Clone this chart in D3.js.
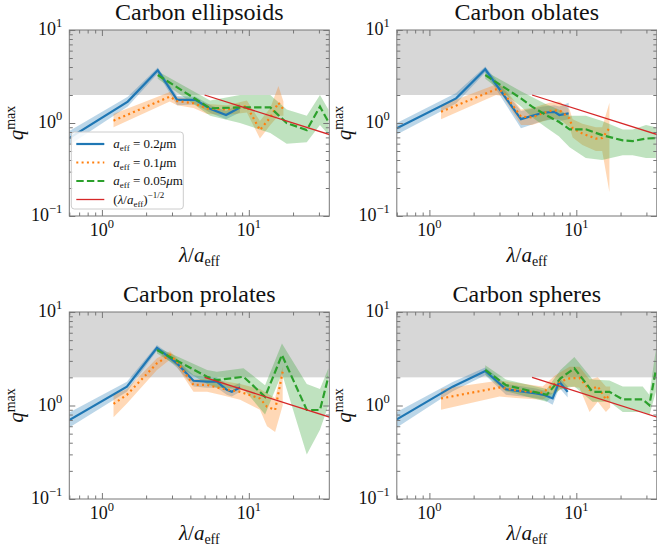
<!DOCTYPE html>
<html><head><meta charset="utf-8">
<script src="https://cdn.jsdelivr.net/npm/d3@7"></script>
<style>
body{margin:0;background:#fff}
svg{display:block}
</style>
</head><body>
<svg id="c" width="657" height="550" font-family="'Liberation Serif', 'Times New Roman', 'DejaVu Serif', serif"></svg>
<script>
// ---------------- DATA ----------------
const panelTitles = ["Carbon ellipsoids", "Carbon oblates", "Carbon prolates", "Carbon spheres"];
const xDomain = [0.6, 35.3];
const yDomain = [0.1, 10];
const bandRange = [2, 10];
const xMajorTicks = [1, 10];
const xMinorTicks = [0.6, 0.7, 0.8, 0.9, 2, 3, 4, 5, 6, 7, 8, 9, 20, 30];
const yMajorTicks = [0.1, 1, 10];
const yMinorTicks = [0.2, 0.3, 0.4, 0.5, 0.6, 0.7, 0.8, 0.9, 2, 3, 4, 5, 6, 7, 8, 9];
const legendLabels = ["0.2", "0.1", "0.05"];
const refLineX = [5, 40];
const refLineY = [2.0, 0.707];

// Carbon ellipsoids
const ell_b_x = [0.6, 1.5, 2.4, 3.25, 4.35, 5.5, 7.0, 8.7];
const ell_b_y = [0.69, 1.7, 3.7, 1.77, 1.77, 1.41, 1.22, 1.47];
const ell_b_lo = [0.58, 1.5, 3.4, 1.55, 1.58, 1.28, 1.1, 1.3];
const ell_b_hi = [0.82, 1.92, 3.95, 1.95, 1.92, 1.55, 1.35, 1.62];
const ell_o_x = [1.2, 2.9, 3.25, 4.2, 5.2, 7.1, 9.7, 11.9, 14.0, 15.9, 17.2];
const ell_o_y = [1.06, 1.92, 1.72, 1.63, 1.43, 1.40, 1.52, 0.84, 1.15, 1.65, 1.4];
const ell_o_lo = [0.9, 1.7, 1.55, 1.45, 1.25, 1.22, 1.3, 0.68, 0.95, 1.2, 1.2];
const ell_o_hi = [1.25, 2.15, 1.9, 1.8, 1.6, 1.55, 1.75, 1.05, 1.45, 2.5, 1.7];
const ell_g_x = [2.4, 5.45, 8.7, 14.0, 18.1, 24.8, 30.5, 34.8];
const ell_g_y = [3.28, 1.44, 1.47, 1.47, 1.0, 0.84, 1.5, 1.03];
const ell_g_lo = [3.0, 1.2, 1.0, 0.78, 0.6, 0.62, 0.95, 0.75];
const ell_g_hi = [3.6, 1.75, 2.0, 2.0, 1.4, 1.2, 2.0, 1.4];

// Carbon oblates
const obl_b_x = [0.6, 1.52, 2.4, 4.2, 5.9, 7.1, 7.66, 8.87];
const obl_b_y = [0.88, 1.84, 3.78, 1.10, 1.29, 1.32, 1.22, 1.27];
const obl_b_lo = [0.75, 1.62, 3.5, 0.88, 1.05, 1.1, 1.05, 1.1];
const obl_b_hi = [1.0, 2.1, 4.05, 1.35, 1.5, 1.55, 1.5, 1.65];
const obl_o_x = [1.2, 2.84, 3.15, 4.2, 5.0, 6.55, 7.7, 9.0, 9.44, 11.0, 13.6, 15.0, 16.8];
const obl_o_y = [1.32, 2.30, 2.18, 1.17, 1.15, 1.35, 1.37, 1.12, 0.88, 0.77, 0.68, 0.69, 0.88];
const obl_o_lo = [1.1, 2.0, 1.95, 0.95, 0.95, 1.1, 1.1, 0.9, 0.7, 0.58, 0.5, 0.5, 0.18];
const obl_o_hi = [1.55, 2.6, 2.5, 1.4, 1.45, 1.65, 1.7, 1.4, 1.1, 0.98, 0.9, 0.9, 1.65];
const obl_g_x = [2.4, 4.2, 5.0, 6.2, 7.6, 9.0, 11.6, 15.0, 20.7, 24.2, 29.8, 34.8];
const obl_g_y = [3.28, 1.84, 1.5, 1.22, 1.03, 0.855, 0.855, 0.74, 0.65, 0.64, 0.68, 0.69];
const obl_g_lo = [3.0, 1.5, 1.15, 0.9, 0.72, 0.55, 0.42, 0.4, 0.45, 0.45, 0.42, 0.42];
const obl_g_hi = [3.6, 2.2, 1.9, 1.6, 1.4, 1.2, 1.2, 1.05, 0.85, 0.85, 0.95, 0.9];

// Carbon prolates
const pro_b_x = [0.6, 1.48, 2.37, 3.24, 4.2, 5.2, 6.06, 7.08, 7.66, 8.73];
const pro_b_y = [0.70, 1.59, 4.15, 2.83, 1.84, 1.80, 1.80, 1.47, 1.40, 1.56];
const pro_b_lo = [0.58, 1.4, 3.85, 2.55, 1.6, 1.55, 1.55, 1.3, 1.25, 1.4];
const pro_b_hi = [0.84, 1.8, 4.45, 3.1, 2.1, 2.0, 2.0, 1.7, 1.6, 1.75];
const pro_o_x = [1.2, 1.48, 2.37, 2.91, 3.24, 4.2, 5.2, 6.38, 8.73, 11.9, 13.3, 15.1, 17.0];
const pro_o_y = [1.04, 1.3, 2.83, 3.47, 2.94, 1.66, 1.66, 1.53, 1.40, 1.19, 0.97, 0.895, 2.3];
const pro_o_lo = [0.75, 1.05, 2.4, 3.1, 2.6, 1.4, 1.4, 1.3, 1.15, 0.9, 0.6, 0.52, 1.0];
const pro_o_hi = [1.3, 1.5, 3.2, 3.8, 3.2, 1.9, 1.95, 1.85, 1.7, 1.5, 1.35, 1.2, 2.6];
const pro_g_x = [2.37, 5.2, 6.06, 9.2, 12.9, 16.8, 24.8, 30.5, 34.8];
const pro_g_y = [3.92, 2.03, 1.87, 2.03, 1.24, 3.47, 0.895, 0.895, 2.03];
const pro_g_lo = [3.6, 1.7, 1.55, 1.5, 0.8, 2.2, 0.3, 0.55, 1.0];
const pro_g_hi = [4.2, 2.4, 2.3, 2.5, 1.65, 4.6, 1.7, 1.5, 2.5];

// Carbon spheres
const sph_b_x = [0.6, 1.44, 2.4, 3.32, 5.32, 6.0, 6.9, 7.66, 8.73];
const sph_b_y = [0.71, 1.59, 2.34, 1.49, 1.35, 1.30, 1.19, 1.80, 1.40];
const sph_b_lo = [0.58, 1.42, 2.1, 1.3, 1.2, 1.15, 1.02, 1.55, 1.22];
const sph_b_hi = [0.85, 1.78, 2.55, 1.7, 1.52, 1.45, 1.35, 2.0, 1.6];
const sph_o_x = [1.2, 3.0, 3.89, 5.9, 7.2, 9.0, 10.5, 12.3, 14.0, 15.9, 17.0];
const sph_o_y = [1.19, 1.56, 1.45, 1.37, 1.73, 1.95, 1.97, 1.47, 1.60, 1.16, 1.33];
const sph_o_lo = [0.9, 1.25, 1.2, 1.15, 1.4, 1.6, 1.55, 0.85, 1.1, 0.85, 0.95];
const sph_o_hi = [1.5, 1.85, 1.75, 1.6, 2.1, 2.6, 2.6, 1.9, 2.0, 1.6, 1.6];
const sph_g_x = [2.4, 3.32, 6.3, 7.8, 9.7, 12.9, 16.8, 20.7, 28.3, 31.4, 34.8];
const sph_g_y = [2.40, 1.65, 1.30, 1.95, 2.50, 1.40, 1.40, 1.16, 1.16, 1.01, 2.40];
const sph_g_lo = [2.15, 1.42, 1.1, 1.5, 1.6, 1.1, 1.1, 0.85, 0.85, 0.78, 1.4];
const sph_g_hi = [2.7, 1.9, 1.5, 2.4, 3.3, 1.9, 1.85, 1.6, 1.6, 1.3, 4.0];

// ---------------- BUILD ----------------
const mk = (x, y, lo, hi) => x.map((v, i) => ({x: v, y: y[i], lo: lo[i], hi: hi[i]}));
const panelSeries = [
  [mk(ell_b_x, ell_b_y, ell_b_lo, ell_b_hi), mk(ell_o_x, ell_o_y, ell_o_lo, ell_o_hi), mk(ell_g_x, ell_g_y, ell_g_lo, ell_g_hi)],
  [mk(obl_b_x, obl_b_y, obl_b_lo, obl_b_hi), mk(obl_o_x, obl_o_y, obl_o_lo, obl_o_hi), mk(obl_g_x, obl_g_y, obl_g_lo, obl_g_hi)],
  [mk(pro_b_x, pro_b_y, pro_b_lo, pro_b_hi), mk(pro_o_x, pro_o_y, pro_o_lo, pro_o_hi), mk(pro_g_x, pro_g_y, pro_g_lo, pro_g_hi)],
  [mk(sph_b_x, sph_b_y, sph_b_lo, sph_b_hi), mk(sph_o_x, sph_o_y, sph_o_lo, sph_o_hi), mk(sph_g_x, sph_g_y, sph_g_lo, sph_g_hi)]
];
const colors = ["#1f77b4", "#ff7f0e", "#2ca02c"];
const red = "#d62728";
const dashes = [null, "2,3.3", "7.4,3.2"];

const svg = d3.select("#c");
const W = 260;
const layout = [
  {x0: 69.3, y0: 30, h: 186, xl: 46},
  {x0: 396.8, y0: 30, h: 186, xl: 46},
  {x0: 69.3, y0: 312, h: 187, xl: 41},
  {x0: 396.8, y0: 312, h: 187, xl: 41}
];
const frameColor = "#777";
const textColor = "#111";

function sup(sel, base, exp, fs, efs) {
  sel.append("tspan").text(base);
  sel.append("tspan").attr("font-size", efs).attr("dy", -fs * 0.42).text(exp);
}

layout.forEach((L, pi) => {
  const x = d3.scaleLog().domain(xDomain).range([0, W]);
  const y = d3.scaleLog().domain(yDomain).range([L.h, 0]);
  const g = svg.append("g").attr("transform", `translate(${L.x0},${L.y0})`).attr("fill", textColor);
  const cid = "clip" + pi;
  g.append("clipPath").attr("id", cid).append("rect").attr("width", W).attr("height", L.h);
  const pg = g.append("g").attr("clip-path", `url(#${cid})`);

  // gray band
  pg.append("rect").attr("x", 0).attr("width", W)
    .attr("y", y(bandRange[1])).attr("height", y(bandRange[0]) - y(bandRange[1]))
    .attr("fill", "#d7d7d7");

  const area = d3.area().x(d => x(d.x)).y0(d => y(d.lo)).y1(d => y(d.hi));
  const line = d3.line().x(d => x(d.x)).y(d => y(d.y));
  const ser = panelSeries[pi];
  ser.forEach((s, si) => {
    pg.append("path").datum(s).attr("d", area).attr("fill", colors[si]).attr("fill-opacity", 0.3);
  });
  ser.forEach((s, si) => {
    const p = pg.append("path").datum(s).attr("d", line).attr("fill", "none")
      .attr("stroke", colors[si]).attr("stroke-width", 2.2);
    if (dashes[si]) p.attr("stroke-dasharray", dashes[si]);
  });
  // reference line
  const ref = refLineX.map((v, i) => ({x: v, y: refLineY[i]}));
  pg.append("path").datum(ref).attr("d", line).attr("fill", "none").attr("stroke", red).attr("stroke-width", 1.3);

  // ticks (inward, all four sides)
  const axes = [
    [d3.axisBottom(x), `translate(0,${L.h})`, xMajorTicks, xMinorTicks],
    [d3.axisTop(x), `translate(0,0)`, xMajorTicks, xMinorTicks],
    [d3.axisLeft(y), `translate(0,0)`, yMajorTicks, yMinorTicks],
    [d3.axisRight(y), `translate(${W},0)`, yMajorTicks, yMinorTicks]
  ];
  axes.forEach(([ax, tr, maj, min]) => {
    [[maj, 6], [min, 3.5]].forEach(([vals, len]) => {
      const a = g.append("g").attr("transform", tr)
        .call(ax.tickValues(vals).tickSize(-len).tickFormat(""));
      a.attr("font-family", null);
      a.select(".domain").remove();
      a.selectAll("line").attr("stroke", frameColor).attr("stroke-width", 1);
    });
  });
  g.append("rect").attr("width", W).attr("height", L.h).attr("fill", "none")
    .attr("stroke", frameColor).attr("stroke-width", 1);

  // tick labels
  const fs = 18, efs = 12.5;
  xMajorTicks.forEach(v => {
    const exp = Math.round(Math.log10(v));
    const t = g.append("text").attr("x", x(v)).attr("y", L.h + 20)
      .attr("text-anchor", "middle").attr("font-size", fs);
    sup(t, "10", exp < 0 ? "\u2212" + (-exp) : String(exp), fs, efs);
  });
  yMajorTicks.forEach(v => {
    const exp = Math.round(Math.log10(v));
    const t = g.append("text").attr("x", -7).attr("y", y(v) + 5)
      .attr("text-anchor", "end").attr("font-size", fs);
    sup(t, "10", exp < 0 ? "\u2212" + (-exp) : String(exp), fs, efs);
  });

  // title
  g.append("text").attr("x", W / 2).attr("y", -10).attr("text-anchor", "middle")
    .attr("font-size", 24).text(panelTitles[pi]);

  // x label
  const xl = g.append("text").attr("x", W / 2).attr("y", L.h + L.xl).attr("text-anchor", "middle").attr("font-size", 21);
  xl.append("tspan").attr("font-style", "italic").text("\u03bb");
  xl.append("tspan").text("/");
  xl.append("tspan").attr("font-style", "italic").text("a");
  xl.append("tspan").attr("font-size", 14).attr("dy", 3.5).text("eff");

  // y label
  const yl = g.append("text").attr("transform", `translate(${-46},${L.h / 2}) rotate(-90)`)
    .attr("text-anchor", "middle").attr("font-size", 21);
  yl.append("tspan").attr("font-style", "italic").text("q");
  yl.append("tspan").attr("font-size", 14).attr("dy", -8).text("max");

  // legend in first panel
  if (pi === 0) {
    const lg = g.append("g").attr("transform", "translate(2,102)");
    lg.append("rect").attr("width", 112).attr("height", 77).attr("rx", 3)
      .attr("fill", "#fff").attr("fill-opacity", 0.85).attr("stroke", "#ccc");
    const rowY = [12, 30.5, 49, 67.5];
    const lfs = 13;
    [0, 1, 2].forEach(i => {
      const l = lg.append("line").attr("x1", 5).attr("x2", 33).attr("y1", rowY[i]).attr("y2", rowY[i])
        .attr("stroke", colors[i]).attr("stroke-width", 2.2);
      if (dashes[i]) l.attr("stroke-dasharray", dashes[i]);
      const t = lg.append("text").attr("x", 42).attr("y", rowY[i] + 4).attr("font-size", lfs);
      t.append("tspan").attr("font-style", "italic").text("a");
      t.append("tspan").attr("font-size", 9).attr("dy", 3).text("eff");
      t.append("tspan").attr("dy", -3).text(" = " + legendLabels[i]);
      t.append("tspan").attr("font-style", "italic").text("\u03bc");
      t.append("tspan").text("m");
    });
    lg.append("line").attr("x1", 5).attr("x2", 33).attr("y1", rowY[3]).attr("y2", rowY[3])
      .attr("stroke", red).attr("stroke-width", 1.3);
    const t = lg.append("text").attr("x", 42).attr("y", rowY[3] + 4).attr("font-size", lfs);
    t.append("tspan").text("(");
    t.append("tspan").attr("font-style", "italic").text("\u03bb");
    t.append("tspan").text("/");
    t.append("tspan").attr("font-style", "italic").text("a");
    t.append("tspan").attr("font-size", 9).attr("dy", 3).text("eff");
    t.append("tspan").attr("dy", -3).text(")");
    t.append("tspan").attr("font-size", 9).attr("dy", -6).text("\u22121/2");
  }
});
</script>
</body></html>
